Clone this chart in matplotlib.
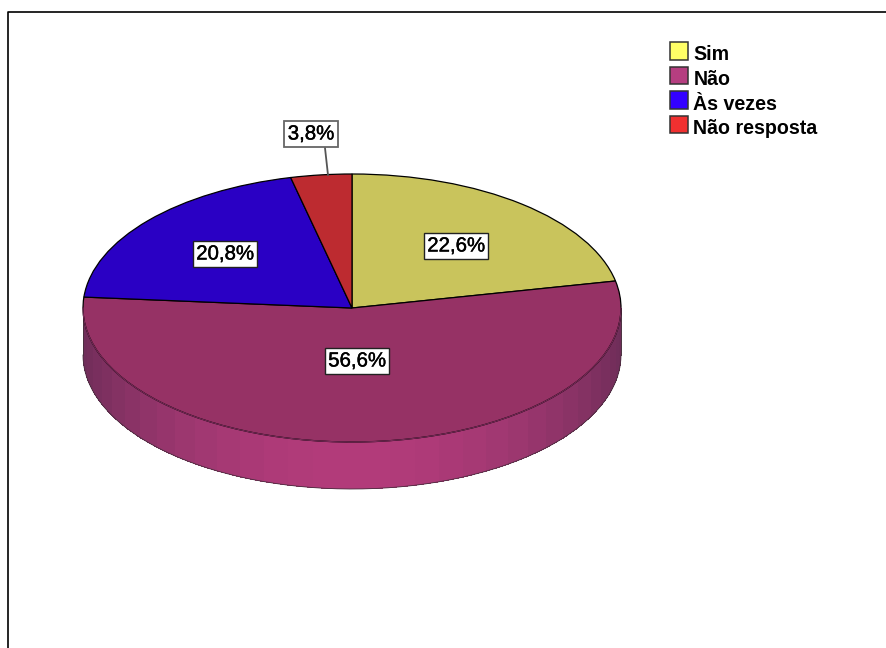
import numpy as np
import matplotlib
matplotlib.use("Agg")
import matplotlib.pyplot as plt
import matplotlib.patheffects as pe
from matplotlib.patches import Patch
from matplotlib.colors import to_rgb

categories = ["Sim", "Não", "Às vezes", "Não resposta"]
percents = [22.6, 56.6, 20.8, 3.8]

top_colors = ["#c9c45c", "#963265", "#2a00c4", "#bd2b30"]
legend_colors = ["#ffff66", "#b53e80", "#3300ff", "#f03030"]

# layout in pixels of the 887x648 picture
W, H = 887, 648
CX, CY, RX, RY = 352, 308, 269, 134
DEPTH = 47
label_px = [(456, 246), (357, 361), (225, 254), (311, 134)]


def px(x, y):
	return (x - CX) / RX, (CY - y) / RY


fig = plt.figure(figsize=(W / 100, H / 100), dpi=100)
ax = fig.add_axes([0, 0, 1, 1])
plt.rcParams["font.family"] = ["Liberation Sans", "DejaVu Sans"]

wedges, _ = ax.pie(percents, colors=top_colors, startangle=90, counterclock=False,
	wedgeprops={"edgecolor": "#000000", "linewidth": 0.9, "zorder": 3})

ax.set_aspect("auto")
ax.set_xlim(px(0, 0)[0], px(W, 0)[0])
ax.set_ylim(px(0, H)[1], px(0, 0)[1])
ax.axis("off")

# side wall of the disc, made of flat facets like the original
edges = np.radians(np.linspace(180, 360, 34))
depth = DEPTH / RY
dark = np.array(to_rgb("#6d2d58"))
bright = np.array(to_rgb("#b23b7a"))
for a0, a1 in zip(edges[:-1], edges[1:]):
	mid = (a0 + a1) / 2
	shade = abs(np.sin(mid)) ** 1.6
	xs = [np.cos(a0), np.cos(a1), np.cos(a1), np.cos(a0)]
	ys = [np.sin(a0), np.sin(a1), np.sin(a1) - depth, np.sin(a0) - depth]
	ax.fill(xs, ys, facecolor=dark + (bright - dark) * shade, edgecolor="none",
		antialiased=False, zorder=1)

arc = np.radians(np.linspace(180, 360, 200))
ax.plot(np.cos(arc), np.sin(arc), color="#7f2d5d", lw=0.7, zorder=4)
ax.plot(np.cos(arc), np.sin(arc) - depth, color="#4a3040", lw=0.6, zorder=2)
for s in (-1, 1):
	ax.plot([s, s], [0, -depth], color="#4a3040", lw=0.7, zorder=2)

# frame only shows on the top and left of the crop
ax.plot(*zip(px(8, H), px(8, 12), px(W, 12)), color="#000000", lw=1.2, zorder=1)

# leader for the small slice
ax.plot(*zip(px(325, 148), px(328, 175)), color="#555555", lw=1.3, zorder=4)

heavier = [pe.withStroke(linewidth=0.3, foreground="#000000")]
for value, (lx, ly) in zip(percents, label_px):
	x, y = px(lx, ly)
	small = value < 5
	ax.text(x, y, ("%.1f%%" % value).replace(".", ","), ha="center", va="center",
		fontsize=14.7, color="#000000", zorder=6, path_effects=heavier,
		bbox={"boxstyle": "square,pad=0.18", "facecolor": "#ffffff",
			"edgecolor": "#666666" if small else "#222222",
			"linewidth": 1.3 if small else 1.0})

handles = [Patch(facecolor=c, edgecolor="#333333", linewidth=1.1) for c in legend_colors]
leg = fig.legend(handles, categories, loc="upper left", bbox_to_anchor=(670 / W, 1 - 42 / H),
	frameon=False, borderpad=0, borderaxespad=0, handlelength=0.9, handleheight=1.0,
	handletextpad=0.3, labelspacing=0.26, prop={"size": 14.1, "weight": "bold"})
for t in leg.get_texts():
	t.set_y(-3)

fig.savefig("out.png", dpi=100, facecolor="#ffffff")
